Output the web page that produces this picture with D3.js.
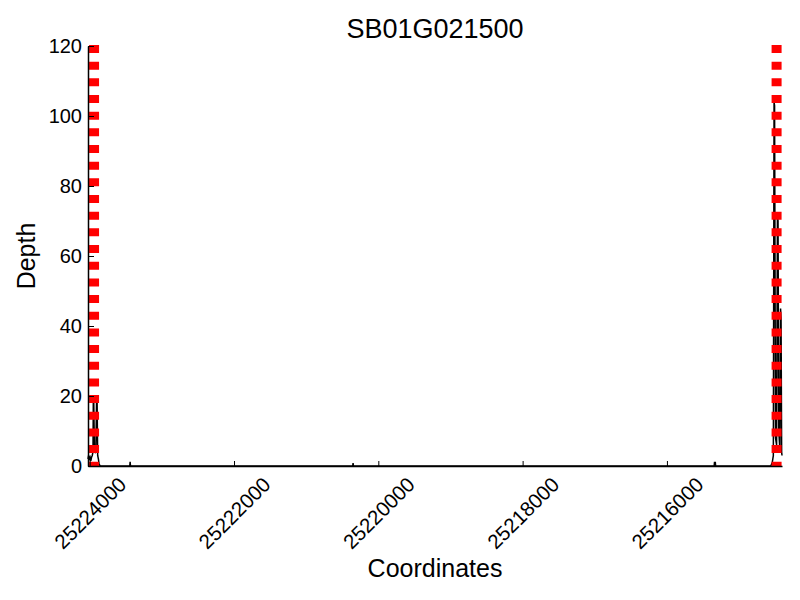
<!DOCTYPE html>
<html>
  <head>
    <meta charset="UTF-8" />
    <script src="https://d3js.org/d3.v7.min.js"></script>
    <style>
      body { margin: 0; background: #fff; }
      text { font-family: "Liberation Sans", Arial, sans-serif; }
    </style>
  </head>
  <body>
    <svg width="800" height="600"></svg>
    <script>
      // data
      const title = "SB01G021500"
      const positions = [
        25224024, 25224015, 25224005, 25223995, 25223985, 25223975, 25223965,
        25223955, 25223950, 25223945, 25223935, 25223925, 25223915, 25223905,
        25223898, 25223890, 25223880, 25223870, 25223855,
        25223445, 25223440, 25223435,
        25220355, 25220350, 25220345,
        25215345, 25215340, 25215335, 25215330, 25215325,
        25214560, 25214540, 25214525, 25214515, 25214508, 25214495, 25214480,
        25214468, 25214460, 25214450, 25214435, 25214425, 25214418, 25214410,
        25214405
      ]
      const depths = [
        2, 3, 2, 2.5, 1.5, 2.5, 3,
        4, 19, 19.5, 4.5, 4, 4.5, 19,
        18.5, 3, 2, 0.5, 0,
        0, 1.2, 0,
        0, 0.8, 0,
        0, 1.2, 0.5, 1.2, 0,
        0, 1, 3, 104, 103, 8, 6,
        72, 70, 10, 5, 45, 42, 4,
        3
      ]
      const geneBounds = [25223940, 25214480]
      const xTicks = [25224000, 25222000, 25220000, 25218000, 25216000]
      const yTicks = [0, 20, 40, 60, 80, 100, 120]

      const svg = d3.select("svg")
      const margin = { top: 46, right: 18, bottom: 134, left: 88 }
      const w = 800 - margin.left - margin.right
      const h = 600 - margin.top - margin.bottom
      const g = svg.append("g")
        .attr("transform", "translate(" + margin.left + "," + margin.top + ")")

      // x runs backwards (gene on minus strand)
      const x = d3.scaleLinear().domain([25224024, 25214405]).range([0, w])
      const y = d3.scaleLinear().domain([0, 120]).range([h, 0])

      const pts = positions.map((p, i) => [p, depths[i]])
      const line = d3.line().x(d => x(d[0])).y(d => y(d[1]))

      g.append("path")
        .datum(pts)
        .attr("d", line)
        .attr("fill", "none")
        .attr("stroke", "#000")
        .attr("stroke-width", 1.5)

      // gene boundaries
      g.selectAll(".bound")
        .data(geneBounds)
        .enter()
        .append("line")
        .attr("x1", d => x(d)).attr("x2", d => x(d))
        .attr("y1", -1).attr("y2", h)
        .attr("stroke", "#ff0000")
        .attr("stroke-width", 10)
        .attr("stroke-dasharray", "8,8.67")

      // axes, ticks point inward
      const xAxis = d3.axisBottom(x)
        .tickValues(xTicks)
        .tickFormat(d3.format("d"))
        .tickSizeInner(-5)
        .tickSizeOuter(0)
      const gx = g.append("g").attr("transform", "translate(0," + h + ")").call(xAxis)
      gx.select(".domain").attr("stroke-width", 1.5)
      gx.selectAll("text")
        .attr("y", 0).attr("dy", "0.35em")
        .attr("transform", "translate(0,47) rotate(-45)")
        .attr("text-anchor", "middle")
        .attr("fill", "#000")
        .style("font-size", "20.5px")

      const yAxis = d3.axisLeft(y)
        .tickValues(yTicks)
        .tickSizeInner(-6)
        .tickSizeOuter(0)
        .tickPadding(6)
      const gy = g.append("g").call(yAxis)
      gy.select(".domain").attr("stroke-width", 1.5)
      gy.selectAll("text").attr("fill", "#000").style("font-size", "20px")
      gy.selectAll("line").attr("stroke-width", 1)

      // titles
      svg.append("text")
        .attr("x", margin.left + w / 2).attr("y", 38)
        .attr("text-anchor", "middle")
        .style("font-size", "27px")
        .text(title)
      svg.append("text")
        .attr("x", margin.left + w / 2).attr("y", 577)
        .attr("text-anchor", "middle")
        .style("font-size", "25px")
        .text("Coordinates")
      svg.append("text")
        .attr("transform", "translate(35," + (margin.top + h / 2) + ") rotate(-90)")
        .attr("text-anchor", "middle")
        .style("font-size", "25px")
        .text("Depth")
    </script>
  </body>
</html>
